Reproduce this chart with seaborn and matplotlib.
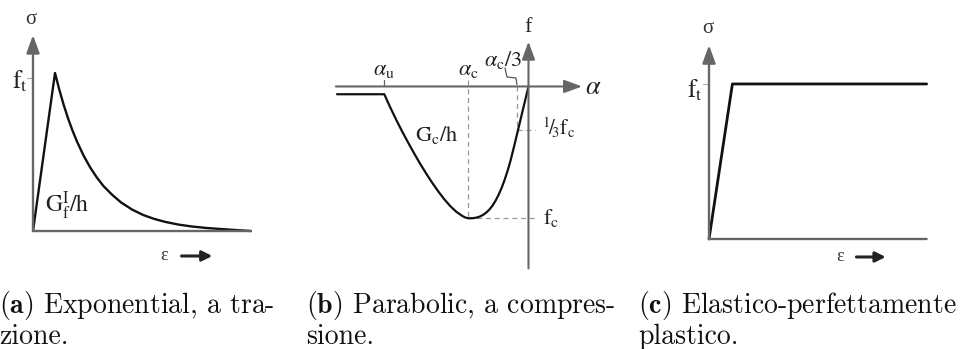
import matplotlib
matplotlib.use("Agg")
import matplotlib.pyplot as plt
import seaborn as sns
import pandas as pd

# ---- (a) exponential softening in tension (strain in units of peak strain, stress in units of f_t)
exp_strain = [0.0, 1.0, 1.2, 1.4, 1.6, 1.8, 2.0, 2.3, 2.6, 2.9, 3.2, 3.6, 4.0,
              4.5, 5.0, 5.5, 6.0, 6.6, 7.2, 7.9, 8.6, 9.9]
exp_stress = [0.0, 1.0, 0.892, 0.796, 0.71, 0.634, 0.566, 0.477, 0.402, 0.339, 0.285,
              0.229, 0.181, 0.136, 0.102, 0.077, 0.058, 0.041, 0.029, 0.019, 0.012, 0.0]

# ---- (b) parabolic law in compression (alpha in units of |alpha_c|, f in units of f_c)
par_alpha = [-3.18, -2.395, -2.3, -2.2, -2.1, -2.0, -1.9, -1.8, -1.7, -1.6, -1.5,
             -1.4, -1.3, -1.2, -1.1, -1.05, -1.0, -0.95, -0.9, -0.85, -0.8, -0.75,
             -0.7, -0.65, -0.6, -0.55, -0.5, -0.45, -0.4, -0.35, -0.3, -0.25, -0.2,
             -0.15, -0.1, -0.05, 0.0]
par_f = [-0.059, -0.059, -0.155, -0.25, -0.34, -0.425, -0.507, -0.586, -0.66, -0.73,
         -0.795, -0.855, -0.907, -0.95, -0.982, -0.994, -1.0, -0.9995, -0.998, -0.993,
         -0.985, -0.973, -0.956, -0.934, -0.905, -0.869, -0.825, -0.774, -0.713,
         -0.644, -0.565, -0.475, -0.38, -0.285, -0.19, -0.095, 0.0]
alpha_u = -2.395
alpha_c = -1.0
alpha_c3 = -0.19
f_c = -1.0
f_c3 = -0.333

# ---- (c) elastic - perfectly plastic
epp_strain = [0.0, 1.0, 9.3]
epp_stress = [0.0, 1.0, 1.0]

captions = [
    (r"$\mathbf{(a)}$ Exponential, a tra-", "zione."),
    (r"$\mathbf{(b)}$ Parabolic, a compres-", "sione."),
    (r"$\mathbf{(c)}$ Elastico-perfettamente", "plastico."),
]

sns.set_theme(style="white")
plt.rcParams["font.family"] = ["Liberation Serif", "DejaVu Serif"]
plt.rcParams["mathtext.fontset"] = "stix"

AXC = "#666666"
INK = "#111111"
DASH = "#999999"
TXT = "#222222"

W, H = 965, 349
fig = plt.figure(figsize=(W / 100, H / 100), dpi=100)
fig.patch.set_facecolor("white")


def panel(box, xlim, ylim):
    x0, y0, x1, y1 = box
    ax = fig.add_axes([x0 / W, 1 - y1 / H, (x1 - x0) / W, (y1 - y0) / H])
    ax.set_xlim(*xlim)
    ax.set_ylim(*ylim)
    ax.set_axis_off()
    return ax


def axis_line(ax, start, end, head=True, lw=1.7):
    style = "-|>,head_length=0.6,head_width=0.22" if head else "-"
    ax.annotate("", xy=end, xytext=start,
                arrowprops=dict(arrowstyle=style, color=AXC, lw=lw,
                                mutation_scale=18, shrinkA=0, shrinkB=0))


def eps_arrow(ax, x_lab, x0, x1, y):
    ax.text(x_lab, y, "ε", ha="center", va="center", fontsize=13, color="#333333")
    ax.annotate("", xy=(x1, y), xytext=(x0, y),
                arrowprops=dict(arrowstyle="-|>,head_length=0.5,head_width=0.25",
                                color="#222222", lw=2.2, mutation_scale=12,
                                shrinkA=0, shrinkB=0))


def curve(ax, x, y, lw=1.7):
    df = pd.DataFrame({"x": x, "y": y})
    sns.lineplot(data=df, x="x", y="y", ax=ax, sort=False, estimator=None,
                 color=INK, lw=lw, legend=False)
    ax.set_axis_off()


# ---------------- panel (a)
ax_a = panel((10, 0, 270, 265), (-1.045, 10.77), (-0.215, 1.462))
axis_line(ax_a, (0, 0), (0, 1.24))
axis_line(ax_a, (0, 0), (9.9, 0), head=False)
ax_a.plot([-0.25, 0], [0.97, 0.97], color="#aaaaaa", lw=0.8)
curve(ax_a, exp_strain, exp_stress)
ax_a.text(-0.09, 1.34, "σ", ha="center", va="center", fontsize=15, color="#333333")
ax_a.text(-0.6, 0.95, r"$\mathrm{f}_\mathrm{t}$", ha="center", va="center",
          fontsize=18, color=TXT)
ax_a.text(1.55, 0.16, r"$\mathrm{G}_\mathrm{f}^\mathrm{I}/\mathrm{h}$", ha="center",
          va="center", fontsize=17, color=TXT)
eps_arrow(ax_a, 5.95, 6.75, 8.15, -0.158)

# ---------------- panel (b)
ax_b = panel((330, 10, 610, 268), (-3.297, 1.354), (-1.377, 0.580))
axis_line(ax_b, (-3.2, 0), (0.89, 0), lw=1.5)
axis_line(ax_b, (0, -1.38), (0, 0.34), lw=1.5)
dash = dict(color=DASH, lw=0.9, ls=(0, (4, 3)))
ax_b.plot([alpha_u, alpha_u], [0, 0.05], color=AXC, lw=0.9)
ax_b.plot([alpha_c, alpha_c], [0.05, f_c], **dash)
ax_b.plot([alpha_c, 0.11], [f_c, f_c], **dash)
ax_b.plot([alpha_c3, alpha_c3], [0, f_c3], **dash)
ax_b.plot([alpha_c3, 0.11], [f_c3, f_c3], **dash)
ax_b.plot([-0.39, -0.357, -0.208, -0.191], [0.14, 0.072, 0.064, 0.015],
          color="#555555", lw=0.9)
curve(ax_b, par_alpha, par_f, lw=1.6)
ax_b.text(0, 0.45, "f", ha="center", va="center", fontsize=16, color=TXT)
ax_b.text(1.07, -0.01, r"$\alpha$", ha="center", va="center", fontsize=19, color=TXT)
ax_b.text(alpha_u, 0.12, r"$\alpha_\mathrm{u}$", ha="center", va="center",
          fontsize=16, color=TXT)
ax_b.text(alpha_c, 0.12, r"$\alpha_\mathrm{c}$", ha="center", va="center",
          fontsize=16, color=TXT)
ax_b.text(-0.42, 0.2, r"$\alpha_\mathrm{c}/3$", ha="center", va="center",
          fontsize=16, color=TXT)
ax_b.text(0.22, f_c3 + 0.02, r"$^1\!/\!_3\mathrm{f}_\mathrm{c}$", ha="left", va="center",
          fontsize=15, color=TXT)
ax_b.text(0.24, f_c, r"$\mathrm{f}_\mathrm{c}$", ha="left", va="center",
          fontsize=16, color=TXT)
ax_b.text(-1.52, -0.37, r"$\mathrm{G}_\mathrm{c}/\mathrm{h}$", ha="center", va="center",
          fontsize=16, color=TXT)

# ---------------- panel (c)
ax_c = panel((670, 10, 935, 270), (-1.667, 9.658), (-0.2, 1.477))
axis_line(ax_c, (0, 0), (0, 1.25))
axis_line(ax_c, (0, 0), (9.3, 0), head=False)
ax_c.plot([-0.25, 0], [1.0, 1.0], color="#aaaaaa", lw=0.8)
curve(ax_c, epp_strain, epp_stress, lw=2.0)
ax_c.text(-0.04, 1.355, "σ", ha="center", va="center", fontsize=15, color="#333333")
ax_c.text(-0.6, 0.96, r"$\mathrm{f}_\mathrm{t}$", ha="center", va="center",
          fontsize=18, color=TXT)
eps_arrow(ax_c, 5.6, 6.3, 7.55, -0.116)

# ---------------- captions
cap_x = [-1, 306, 638]
for (line1, line2), x in zip(captions, cap_x):
    fig.text(x / W, 1 - 305 / H, line1, ha="left", va="center", fontsize=20,
             family="cmr10", math_fontfamily="cm", color="#111111")
    fig.text(x / W, 1 - 337 / H, line2, ha="left", va="center", fontsize=20,
             family="cmr10", math_fontfamily="cm", color="#111111")

fig.savefig("out.png", dpi=100, facecolor="white")
